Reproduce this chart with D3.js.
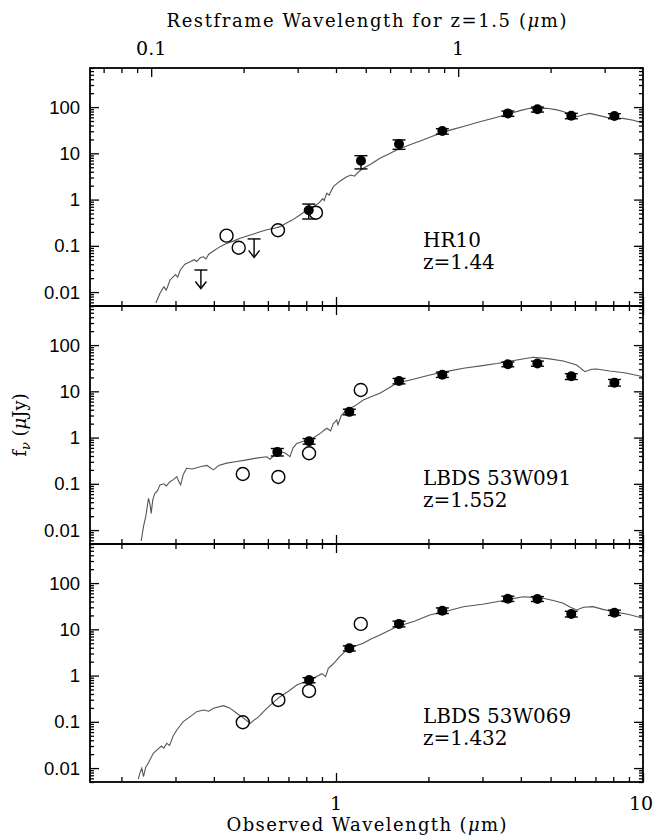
<!DOCTYPE html>
<html>
<head>
<meta charset="utf-8">
<script src="https://cdn.jsdelivr.net/npm/d3@7"></script>
<style>
  body { margin: 0; background: #fff; }
  text { fill: #000; }
</style>
</head>
<body>
<svg id="chart" width="657" height="840"></svg>
<script>
// ---- data (wavelength in micron, flux in microJy) ----

// HR10, z=1.44
const hr10Model = [[0.259,0.0058],[0.267,0.0094],[0.275,0.013],[0.280,0.011],[0.288,0.0183],[0.300,0.024],[0.305,0.021],[0.311,0.030],[0.322,0.040],[0.335,0.0455],[0.345,0.050],[0.352,0.046],[0.362,0.056],[0.370,0.058],[0.377,0.052],[0.385,0.066],[0.400,0.078],[0.419,0.096],[0.440,0.112],[0.465,0.128],[0.487,0.146],[0.520,0.168],[0.545,0.185],[0.566,0.202],[0.600,0.225],[0.630,0.24],[0.657,0.26],[0.690,0.31],[0.720,0.36],[0.763,0.465],[0.800,0.58],[0.844,0.70],[0.880,0.85],[0.905,1.05],[0.915,0.95],[0.933,1.37],[0.95,1.25],[0.98,1.9],[1.03,2.5],[1.083,3.1],[1.12,3.4],[1.15,3.2],[1.18,3.9],[1.227,4.75],[1.30,5.9],[1.39,7.8],[1.48,9.6],[1.576,11.8],[1.75,15.5],[1.9,19],[2.05,23],[2.18,27],[2.4,33],[2.6,38],[2.94,48],[3.3,59],[3.69,73],[4.0,85],[4.28,94],[4.6,95],[4.86,94],[5.2,88],[5.5,80],[5.8,68],[6.08,62],[6.4,68],[6.7,73],[7.1,67],[7.62,60],[8.1,58],[8.6,57],[9.3,52],[10,45]];
const hr10Wave   = [0.815, 1.206, 1.604, 2.22, 3.63, 4.53, 5.84, 8.07];
const hr10Flux   = [0.59, 6.9, 15.9, 30.4, 73, 89.5, 65, 64];
const hr10Lo     = [0.38, 4.6, 12.2, 26, 63, 78, 56, 56];
const hr10Hi     = [0.80, 8.9, 19.5, 34, 82, 100, 73, 72];
const hr10OpenWave = [0.44, 0.482, 0.647, 0.86];
const hr10OpenFlux = [0.166, 0.091, 0.217, 0.52];
const hr10LimWave  = [0.363, 0.541];
const hr10LimFlux  = [0.030, 0.141];

// LBDS 53W091, z=1.552
const w091Model = [[0.232,0.0058],[0.236,0.012],[0.240,0.0195],[0.245,0.0487],[0.248,0.035],[0.250,0.023],[0.253,0.045],[0.257,0.0625],[0.262,0.07],[0.267,0.095],[0.275,0.10],[0.280,0.09],[0.288,0.111],[0.296,0.125],[0.303,0.143],[0.308,0.11],[0.312,0.095],[0.318,0.16],[0.326,0.217],[0.340,0.21],[0.361,0.235],[0.380,0.25],[0.399,0.20],[0.415,0.25],[0.44,0.28],[0.47,0.30],[0.512,0.33],[0.55,0.36],[0.595,0.386],[0.61,0.34],[0.63,0.42],[0.657,0.50],[0.68,0.47],[0.708,0.386],[0.725,0.6],[0.745,0.75],[0.8,0.88],[0.844,0.98],[0.89,1.25],[0.933,1.59],[0.96,1.4],[0.98,2.0],[1.005,2.4],[1.015,1.9],[1.04,3.0],[1.083,3.95],[1.15,4.8],[1.227,6.5],[1.3,7.6],[1.39,9.1],[1.576,14.9],[1.8,18.5],[2.02,22.5],[2.3,27],[2.6,31.5],[3.0,36],[3.34,40],[3.88,47.7],[4.39,54.5],[4.9,51],[5.5,45.3],[6.08,37],[6.47,26.6],[6.8,30],[7.06,30.4],[7.8,27.5],[8.8,25],[10,20.7]];
const w091Wave = [0.644, 0.817, 1.105, 1.604, 2.22, 3.63, 4.53, 5.84, 8.07];
const w091Flux = [0.49, 0.83, 3.6, 16.7, 22.9, 38.5, 40, 21.1, 15.4];
const w091Lo   = [0.40, 0.72, 3.1, 14.5, 20, 34, 35, 18, 13];
const w091Hi   = [0.58, 0.95, 4.1, 19, 26, 43, 45, 24, 18];
const w091OpenWave = [0.497, 0.649, 0.817, 1.204];
const w091OpenFlux = [0.163, 0.141, 0.458, 10.7];

// LBDS 53W069, z=1.432
const w069Model = [[0.227,0.0058],[0.230,0.008],[0.233,0.0099],[0.236,0.0065],[0.240,0.0105],[0.245,0.013],[0.254,0.0209],[0.262,0.025],[0.270,0.030],[0.275,0.027],[0.281,0.0345],[0.287,0.031],[0.295,0.05],[0.303,0.0667],[0.318,0.101],[0.33,0.12],[0.352,0.166],[0.37,0.18],[0.385,0.17],[0.399,0.196],[0.43,0.224],[0.45,0.20],[0.475,0.153],[0.50,0.12],[0.525,0.093],[0.56,0.13],[0.595,0.196],[0.62,0.25],[0.657,0.35],[0.70,0.46],[0.745,0.627],[0.80,0.75],[0.844,0.875],[0.90,1.1],[0.925,0.95],[0.944,1.44],[0.98,1.8],[1.03,2.6],[1.083,3.6],[1.15,4.3],[1.227,5.0],[1.30,6.2],[1.39,7.5],[1.576,11.4],[1.8,15],[2.02,20.4],[2.3,25],[2.6,30.9],[3.0,35],[3.34,39.6],[3.7,45],[4.07,50.8],[4.4,49],[4.73,46.9],[5.1,42],[5.5,36.6],[5.8,30],[6.08,26.2],[6.4,30],[6.87,30.9],[7.4,27],[8.0,24.1],[9.0,21],[10,17.3]];
const w069Wave = [0.817, 1.105, 1.604, 2.22, 3.63, 4.53, 5.84, 8.07];
const w069Flux = [0.80, 3.9, 13.1, 25.3, 46, 45.3, 21.5, 22.9];
const w069Lo   = [0.70, 3.4, 11.3, 22, 40, 40, 18.5, 20];
const w069Hi   = [0.90, 4.4, 15, 29, 52, 51, 24.5, 26];
const w069OpenWave = [0.497, 0.649, 0.817, 1.204];
const w069OpenFlux = [0.098, 0.297, 0.465, 13.1];

// axis ticks
const obsMajor = [1, 10];
const obsMinor = [0.2,0.3,0.4,0.5,0.6,0.7,0.8,0.9,2,3,4,5,6,7,8,9];
const obsLabels = ["1", "10"];
const restMajor = [0.1, 1];
const restMinor = [0.07,0.08,0.09,0.2,0.3,0.4,0.5,0.6,0.7,0.8,0.9,2,3];
const restLabels = ["0.1", "1"];
const fluxMajor = [0.01, 0.1, 1, 10, 100];
const fluxLabels = ["0.01", "0.1", "1", "10", "100"];
const zRest = 1.5;

const panels = [
  {name: "HR10", z: "z=1.44", model: hr10Model, wave: hr10Wave, flux: hr10Flux, lo: hr10Lo, hi: hr10Hi,
   openWave: hr10OpenWave, openFlux: hr10OpenFlux, limWave: hr10LimWave, limFlux: hr10LimFlux},
  {name: "LBDS 53W091", z: "z=1.552", model: w091Model, wave: w091Wave, flux: w091Flux, lo: w091Lo, hi: w091Hi,
   openWave: w091OpenWave, openFlux: w091OpenFlux, limWave: [], limFlux: []},
  {name: "LBDS 53W069", z: "z=1.432", model: w069Model, wave: w069Wave, flux: w069Flux, lo: w069Lo, hi: w069Hi,
   openWave: w069OpenWave, openFlux: w069OpenFlux, limWave: [], limFlux: []}
];

// ---- layout ----
const plotLeft = 90, plotRight = 643, plotTop = 68, panelH = 238;
const plotMid = (plotLeft + plotRight) / 2;
const serif = "'DejaVu Serif', serif";
const sans = "'Liberation Sans', Arial, sans-serif";

const svg = d3.select('#chart');

const xScale = d3.scaleLog().domain([0.158, 10]).range([plotLeft, plotRight]);
const restScale = d3.scaleLog().domain([0.158 / (1 + zRest), 10 / (1 + zRest)]).range([plotLeft, plotRight]);

const fluxMinor = [];
[0.001, 0.01, 0.1, 1, 10, 100].forEach(dec => {
  for (let k = 2; k <= 9; k++) {
    const v = +(dec * k).toPrecision(3);
    if (v >= 0.005 && v <= 700) fluxMinor.push(v);
  }
});

function tickAxis(axisFn, scale, values, size) {
  return axisFn(scale).tickValues(values).tickSize(size).tickFormat('');
}

function styleAxis(sel) {
  sel.select('.domain').remove();
  sel.selectAll('.tick line').attr('stroke', '#000').attr('stroke-width', 1.3);
}

panels.forEach((p, i) => {
  const y0 = plotTop + i * panelH;
  const yScale = d3.scaleLog().domain([0.005, 700]).range([y0 + panelH, y0]);

  const g = svg.append('g');

  g.append('clipPath').attr('id', `clip${i}`)
    .append('rect').attr('x', plotLeft).attr('y', y0).attr('width', plotRight - plotLeft).attr('height', panelH);

  // model spectrum
  g.append('path')
    .datum(p.model)
    .attr('clip-path', `url(#clip${i})`)
    .attr('fill', 'none')
    .attr('stroke', '#555')
    .attr('stroke-width', 1.1)
    .attr('d', d3.line().x(d => xScale(d[0])).y(d => yScale(d[1])));

  // error bars
  const errs = p.wave.map((w, j) => ({w, v: p.flux[j], lo: p.lo[j], hi: p.hi[j]}));
  const eb = g.selectAll('.err').data(errs).join('g').attr('class', 'err')
    .attr('stroke', '#000').attr('stroke-width', 1.4);
  eb.append('line')
    .attr('x1', d => xScale(d.w)).attr('x2', d => xScale(d.w))
    .attr('y1', d => yScale(d.lo)).attr('y2', d => yScale(d.hi));
  eb.append('line')
    .attr('x1', d => xScale(d.w) - 6.5).attr('x2', d => xScale(d.w) + 6.5)
    .attr('y1', d => yScale(d.lo)).attr('y2', d => yScale(d.lo));
  eb.append('line')
    .attr('x1', d => xScale(d.w) - 6.5).attr('x2', d => xScale(d.w) + 6.5)
    .attr('y1', d => yScale(d.hi)).attr('y2', d => yScale(d.hi));

  // detections
  g.selectAll('.det').data(errs).join('circle').attr('class', 'det')
    .attr('cx', d => xScale(d.w)).attr('cy', d => yScale(d.v))
    .attr('r', 5).attr('fill', '#000');

  // other photometry (open circles)
  g.selectAll('.open').data(p.openWave.map((w, j) => [w, p.openFlux[j]])).join('circle').attr('class', 'open')
    .attr('cx', d => xScale(d[0])).attr('cy', d => yScale(d[1]))
    .attr('r', 6.5).attr('fill', 'none').attr('stroke', '#000').attr('stroke-width', 1.4);

  // upper limits
  const lim = g.selectAll('.lim').data(p.limWave.map((w, j) => [w, p.limFlux[j]])).join('g').attr('class', 'lim')
    .attr('transform', d => `translate(${xScale(d[0])},${yScale(d[1])})`)
    .attr('stroke', '#000').attr('stroke-width', 1.4).attr('fill', 'none');
  lim.append('line').attr('x1', -6.5).attr('x2', 6.5);
  lim.append('line').attr('y2', 18);
  lim.append('path').attr('d', 'M-5.5,11.5L0,18.5L5.5,11.5');

  // frame
  g.append('rect').attr('x', plotLeft).attr('y', y0).attr('width', plotRight - plotLeft).attr('height', panelH)
    .attr('fill', 'none').attr('stroke', '#000').attr('stroke-width', 1.8);

  // y ticks, both sides, pointing in
  [[d3.axisRight, plotLeft], [d3.axisLeft, plotRight]].forEach(([fn, xp]) => {
    g.append('g').attr('transform', `translate(${xp},0)`)
      .call(tickAxis(fn, yScale, fluxMinor, 4)).call(styleAxis);
    g.append('g').attr('transform', `translate(${xp},0)`)
      .call(tickAxis(fn, yScale, fluxMajor, 9)).call(styleAxis);
  });

  // x ticks: bottom edge (observed), top edge (observed, rest-frame on first panel)
  g.append('g').attr('transform', `translate(0,${y0 + panelH})`)
    .call(tickAxis(d3.axisTop, xScale, obsMinor, 5)).call(styleAxis);
  g.append('g').attr('transform', `translate(0,${y0 + panelH})`)
    .call(tickAxis(d3.axisTop, xScale, obsMajor, 9)).call(styleAxis);
  if (i === 0) {
    g.append('g').attr('transform', `translate(0,${y0})`)
      .call(tickAxis(d3.axisBottom, restScale, restMinor, 5)).call(styleAxis);
    g.append('g').attr('transform', `translate(0,${y0})`)
      .call(tickAxis(d3.axisBottom, restScale, restMajor, 9)).call(styleAxis);
  } else {
    g.append('g').attr('transform', `translate(0,${y0})`)
      .call(tickAxis(d3.axisBottom, xScale, obsMinor, 5)).call(styleAxis);
    g.append('g').attr('transform', `translate(0,${y0})`)
      .call(tickAxis(d3.axisBottom, xScale, obsMajor, 9)).call(styleAxis);
  }

  // y tick labels
  g.selectAll('.ylab').data(fluxMajor).join('text').attr('class', 'ylab')
    .attr('x', plotLeft - 10).attr('y', d => yScale(d)).attr('dy', '0.36em')
    .attr('text-anchor', 'end')
    .style('font-family', sans).style('font-size', '18.5px')
    .text((d, j) => fluxLabels[j]);

  // object name and redshift
  const lab = g.append('text').attr('x', 423).attr('y', y0 + panelH - 59)
    .style('font-family', serif).style('font-size', '20px');
  lab.append('tspan').attr('x', 423).text(p.name);
  lab.append('tspan').attr('x', 423).attr('dy', 22).text(p.z);
});

// bottom x tick labels
svg.selectAll('.xlab').data(obsMajor).join('text').attr('class', 'xlab')
  .attr('x', d => xScale(d) - (d === 10 ? 2 : 0)).attr('y', plotTop + 3 * panelH + 28)
  .attr('text-anchor', 'middle')
  .style('font-family', serif).style('font-size', '19px')
  .text((d, j) => obsLabels[j]);

// top x tick labels (rest frame)
svg.selectAll('.rlab').data(restMajor).join('text').attr('class', 'rlab')
  .attr('x', d => restScale(d)).attr('y', plotTop - 13)
  .attr('text-anchor', 'middle')
  .style('font-family', serif).style('font-size', '19px')
  .text((d, j) => restLabels[j]);

// axis titles
const topTitle = svg.append('text').attr('x', plotMid).attr('y', 27)
  .attr('text-anchor', 'middle')
  .attr('textLength', 400).attr('lengthAdjust', 'spacing')
  .style('font-family', serif).style('font-size', '18px');
topTitle.append('tspan').text('Restframe Wavelength for z=1.5 (');
topTitle.append('tspan').style('font-style', 'italic').text('μ');
topTitle.append('tspan').text('m)');

const botTitle = svg.append('text').attr('x', plotMid).attr('y', 831)
  .attr('text-anchor', 'middle')
  .attr('textLength', 280).attr('lengthAdjust', 'spacing')
  .style('font-family', serif).style('font-size', '18px');
botTitle.append('tspan').text('Observed Wavelength (');
botTitle.append('tspan').style('font-style', 'italic').text('μ');
botTitle.append('tspan').text('m)');

const yTitle = svg.append('text')
  .attr('transform', `translate(26,${plotTop + 1.5 * panelH}) rotate(-90)`)
  .attr('text-anchor', 'middle')
  .style('font-family', serif).style('font-size', '18px');
yTitle.append('tspan').text('f');
yTitle.append('tspan').attr('dy', 4).style('font-size', '13px').style('font-style', 'italic').text('ν');
yTitle.append('tspan').attr('dy', -4).text(' (');
yTitle.append('tspan').style('font-style', 'italic').text('μ');
yTitle.append('tspan').text('Jy)');
</script>
</body>
</html>
